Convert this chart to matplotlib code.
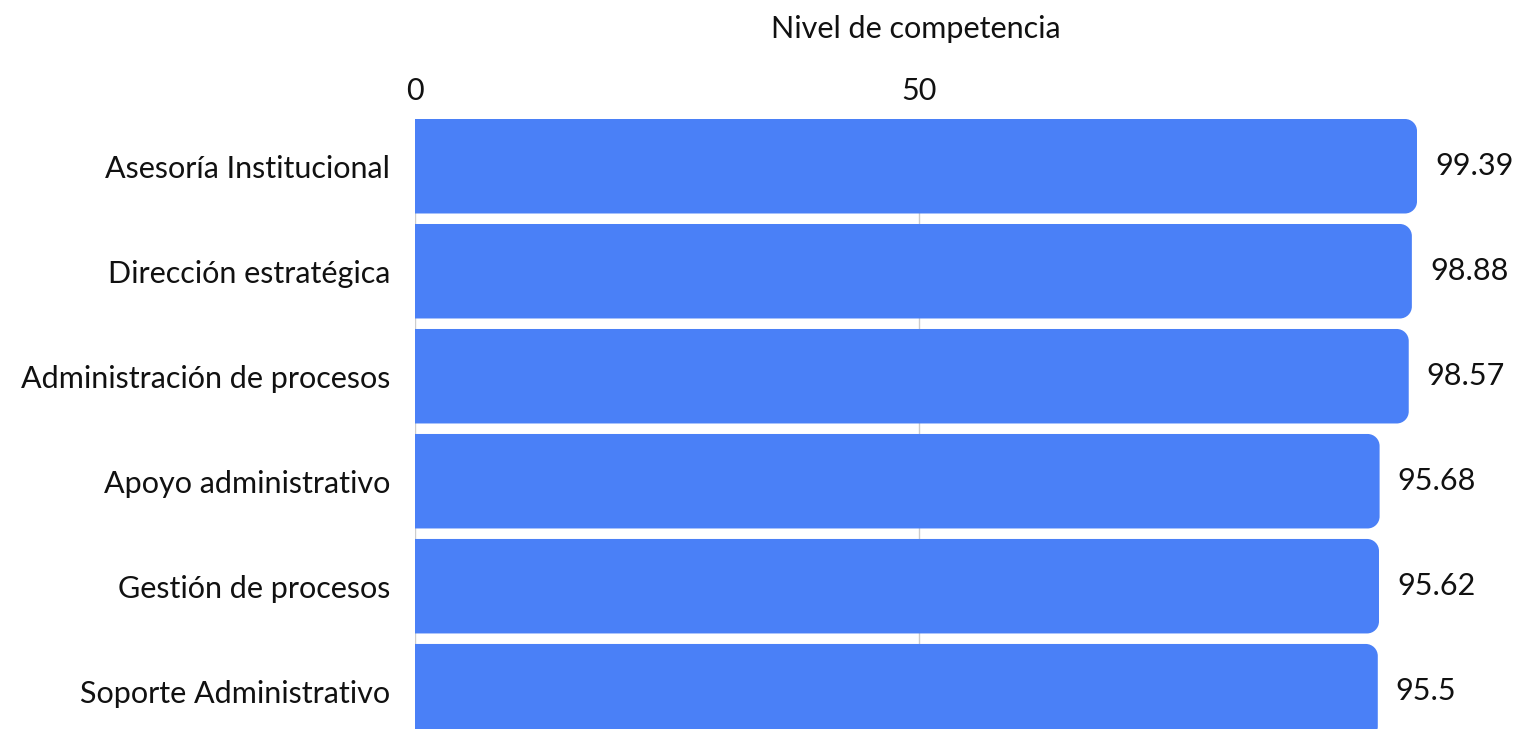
import matplotlib
matplotlib.use("Agg")
import matplotlib.pyplot as plt
from matplotlib.path import Path
from matplotlib.patches import PathPatch

# datos
categorias = ["Asesoría Institucional", "Dirección estratégica", "Administración de procesos",
              "Apoyo administrativo", "Gestión de procesos", "Soporte Administrativo"]
valores = [99.39, 98.88, 98.57, 95.68, 95.62, 95.5]
etiquetas = ["99.39", "98.88", "98.57", "95.68", "95.62", "95.5"]
ticks_x = [0, 50]

color_barra = "#4a80f7"
plt.rcParams['font.family'] = ['Lato', 'DejaVu Sans']
fs = 22

fig = plt.figure(figsize=(15.2, 7.29), dpi=100)
W, H = 1520, 729
# ejes: izquierda 415px, derecha 1417px, arriba 119px, abajo 729px
ax = fig.add_axes([415 / W, 0, (1417 - 415) / W, (729 - 119) / H])

alto = 0.9
ax.set_xlim(0, valores[0])
ax.set_ylim(5.36, -0.45)


def barra_redondeada(ax, y, ancho, alto, r_px=12):
    # radio en unidades de datos (escalas distintas en x e y)
    bb = ax.get_window_extent()
    x0, x1 = ax.get_xlim()
    y0, y1 = ax.get_ylim()
    rx = r_px / (bb.width / (x1 - x0))
    ry = r_px / (bb.height / abs(y1 - y0))
    top = y - alto / 2
    bot = y + alto / 2
    k = 0.5523
    verts = [
        (0, top),
        (ancho - rx, top),
        (ancho - rx + k * rx, top), (ancho, top + ry - k * ry), (ancho, top + ry),
        (ancho, bot - ry),
        (ancho, bot - ry + k * ry), (ancho - rx + k * rx, bot), (ancho - rx, bot),
        (0, bot),
        (0, top),
    ]
    codes = [Path.MOVETO, Path.LINETO,
             Path.CURVE4, Path.CURVE4, Path.CURVE4,
             Path.LINETO,
             Path.CURVE4, Path.CURVE4, Path.CURVE4,
             Path.LINETO, Path.CLOSEPOLY]
    ax.add_patch(PathPatch(Path(verts, codes), facecolor=color_barra, edgecolor="none", zorder=3))


for i, v in enumerate(valores):
    barra_redondeada(ax, i, v, alto)
    ax.annotate(etiquetas[i], (v, i), xytext=(13, 0), textcoords="offset points",
                ha="left", va="center", fontsize=fs, color="#111111",
                annotation_clip=False)

ax.set_yticks(range(len(categorias)))
ax.set_yticklabels(categorias, fontsize=fs, color="#111111")
ax.set_xticks(ticks_x)
ax.set_xticklabels([str(t) for t in ticks_x], fontsize=fs, color="#111111")
ax.xaxis.tick_top()
ax.xaxis.set_label_position("top")
ax.set_xlabel("Nivel de competencia", fontsize=fs, color="#111111", labelpad=28)
ax.tick_params(axis="both", length=0)
ax.tick_params(axis="y", pad=18)
ax.tick_params(axis="x", pad=10)
ax.grid(axis="x", color="#cccccc", linewidth=1, zorder=0)
ax.set_axisbelow(True)
for s in ax.spines.values():
    s.set_visible(False)

fig.savefig("out.png", dpi=100)
